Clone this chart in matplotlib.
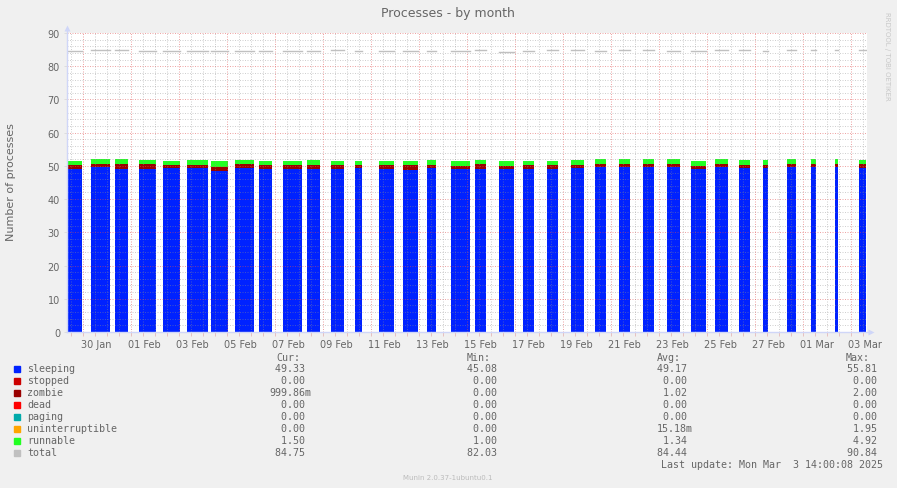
import matplotlib.pyplot as plt

# data blocks: one block of samples per day, hours measured from left edge
block_hours = [15, 19, 13, 17, 17, 21, 17, 19, 13, 19, 13, 13, 7, 15, 15, 9, 19,
               11, 15, 11, 11, 13, 11, 11, 11, 13, 15, 13, 11, 5, 9, 5, 3, 7]
sleeping = [49.2, 49.6, 49.2, 49.1, 49.3, 49.3, 48.4, 49.5, 49.2, 49.1, 49.2, 49.2,
            49.5, 49.1, 48.9, 49.5, 49.0, 49.2, 49.0, 49.2, 49.2, 49.4, 49.6, 49.6,
            49.6, 49.6, 49.1, 49.6, 49.4, 49.4, 49.6, 49.6, 49.7, 49.5]
zombie = [1.1, 0.9, 1.4, 1.5, 0.9, 0.9, 1.2, 1.1, 1.1, 1.1, 1.0, 1.0,
          0.8, 1.1, 1.3, 0.9, 0.9, 1.4, 1.0, 1.0, 1.0, 1.0, 1.0, 1.0,
          1.0, 1.1, 0.9, 1.1, 0.9, 0.9, 1.0, 1.0, 1.0, 1.0]
runnable = [1.3, 1.6, 1.4, 1.2, 1.3, 1.5, 1.9, 1.3, 1.3, 1.4, 1.6, 1.4,
            1.3, 1.4, 1.3, 1.5, 1.5, 1.1, 1.6, 1.2, 1.4, 1.3, 1.4, 1.4,
            1.4, 1.3, 1.5, 1.3, 1.4, 1.4, 1.5, 1.5, 1.5, 1.4]
total = [84.5, 84.9, 85.0, 84.6, 84.5, 84.5, 84.6, 84.6, 84.5, 84.6, 84.6, 84.9,
         84.6, 84.5, 84.5, 84.7, 84.5, 84.8, 84.4, 84.7, 84.9, 84.8, 84.7, 85.0,
         84.9, 84.7, 84.5, 84.8, 84.8, 84.7, 85.0, 84.9, 85.0, 85.0]

date_labels = ["30 Jan", "01 Feb", "03 Feb", "05 Feb", "07 Feb", "09 Feb", "11 Feb",
               "13 Feb", "15 Feb", "17 Feb", "19 Feb", "21 Feb", "23 Feb", "25 Feb",
               "27 Feb", "01 Mar", "03 Mar"]

names = ["sleeping", "stopped", "zombie", "dead", "paging", "uninterruptible", "runnable", "total"]
colors = ["#0022ff", "#cc0000", "#990000", "#ff0000", "#00aaaa", "#ffa500", "#22ff22", "#c0c0c0"]
cur = ["49.33", "0.00", "999.86m", "0.00", "0.00", "0.00", "1.50", "84.75"]
mins = ["45.08", "0.00", "0.00", "0.00", "0.00", "0.00", "1.00", "82.03"]
avgs = ["49.17", "0.00", "1.02", "0.00", "0.00", "15.18m", "1.34", "84.44"]
maxs = ["55.81", "0.00", "2.00", "0.00", "0.00", "1.95", "4.92", "90.84"]

W, H = 897, 489
fig = plt.figure(figsize=(W / 100, H / 100), dpi=100, facecolor="#f0f0f0")
ax = fig.add_axes([67 / W, (H - 333) / H, 800 / W, 299 / H])
ax.set_facecolor("white")
ax.set_xlim(0, 800)
ax.set_ylim(0, 90)

# stacked areas
for i, dur in enumerate(block_hours):
    x = [24 * i, 24 * i + dur]
    s = sleeping[i]
    z = s + zombie[i]
    r = z + runnable[i]
    ax.fill_between(x, 0, s, color=colors[0], lw=0, zorder=1)
    ax.fill_between(x, s, z, color=colors[2], lw=0, zorder=1)
    ax.fill_between(x, z, r, color=colors[6], lw=0, zorder=1)
    ax.plot(x, [total[i], total[i]], color=colors[7], lw=1, zorder=3)

# grid drawn on top, rrdtool style
dots = (0, (1, 1.5))
gcol = (0.56, 0.56, 0.56, 0.42)
mcol = (0.87, 0.31, 0.31, 0.5)
kw = dict(lw=0.72, ls=dots, zorder=2)
for v in range(2, 91, 2):
    if v % 10:
        ax.axhline(v, color=gcol, **kw)
for v in range(10, 91, 10):
    ax.axhline(v, color=mcol, **kw)
for h in range(4, 800, 12):
    if (h - 16) % 48:
        ax.axvline(h, color=gcol, **kw)
for h in range(16, 800, 48):
    ax.axvline(h, color=mcol, **kw)

for sp in ax.spines.values():
    sp.set_visible(False)
ax.plot([0, 0], [0, 91.2], color="#cfd6f8", lw=1, clip_on=False, zorder=4)
ax.plot([0, 803], [0, 0], color="#cfd6f8", lw=1, clip_on=False, zorder=4)
ax.plot(0, 91.6, marker="^", ms=5, color="#cfd6f8", mec="none", clip_on=False)
ax.plot(803.5, 0, marker=">", ms=5, color="#cfd6f8", mec="none", clip_on=False)

ax.set_yticks(range(0, 91, 10))
ax.set_xticks([29.5 + 48 * k for k in range(len(date_labels))], date_labels)
ax.set_xticks(range(4, 800, 12), minor=True)
ax.tick_params(axis="x", which="major", length=0, pad=5, labelsize=7, labelcolor="#666666")
ax.tick_params(axis="x", which="minor", length=3, width=0.7, color="#e6c0c0")
ax.tick_params(axis="y", length=2, width=0.7, color="#dddddd", pad=3, labelsize=7, labelcolor="#666666")

fig.text(448 / W, 1 - 13 / H, "Processes - by month", ha="center", va="center",
         fontsize=9, color="#666666")
fig.text(11 / W, 1 - 182 / H, "Number of processes", rotation=90, ha="center",
         va="center", fontsize=8, color="#666666")
fig.text(887 / W, 1 - 56 / H, "RRDTOOL / TOBI OETIKER", rotation=270, ha="center",
         va="center", fontsize=5, color="#c8c8c8")

# legend table
mono = "DejaVu Sans Mono"
fs = 7.2
tc = "#666666"
for x, head in [(276, "Cur:"), (467, "Min:"), (657, "Avg:"), (846, "Max:")]:
    fig.text(x / W, 1 - 358 / H, head, family=mono, fontsize=fs, color=tc, va="center")
for i, name in enumerate(names):
    y = 1 - (369.5 + 12 * i) / H
    fig.patches.append(plt.Rectangle((14 / W, y - 3 / H), 6 / W, 6 / H,
                                     transform=fig.transFigure, color=colors[i]))
    fig.text(27 / W, y, name, family=mono, fontsize=fs, color=tc, va="center")
    for x, col in [(311, cur), (503, mins), (693, avgs), (883, maxs)]:
        val = col[i] if col[i].endswith("m") else col[i] + " "
        fig.text(x / W, y, val, family=mono, fontsize=fs, color=tc, va="center", ha="right")
fig.text(883 / W, 1 - 465 / H, "Last update: Mon Mar  3 14:00:08 2025", family=mono,
         fontsize=fs, color=tc, va="center", ha="right")
fig.text(448 / W, 1 - 478 / H, "Munin 2.0.37-1ubuntu0.1", fontsize=5, color="#bbbbbb",
         ha="center", va="center")

fig.savefig("out.png", dpi=100, facecolor=fig.get_facecolor())
